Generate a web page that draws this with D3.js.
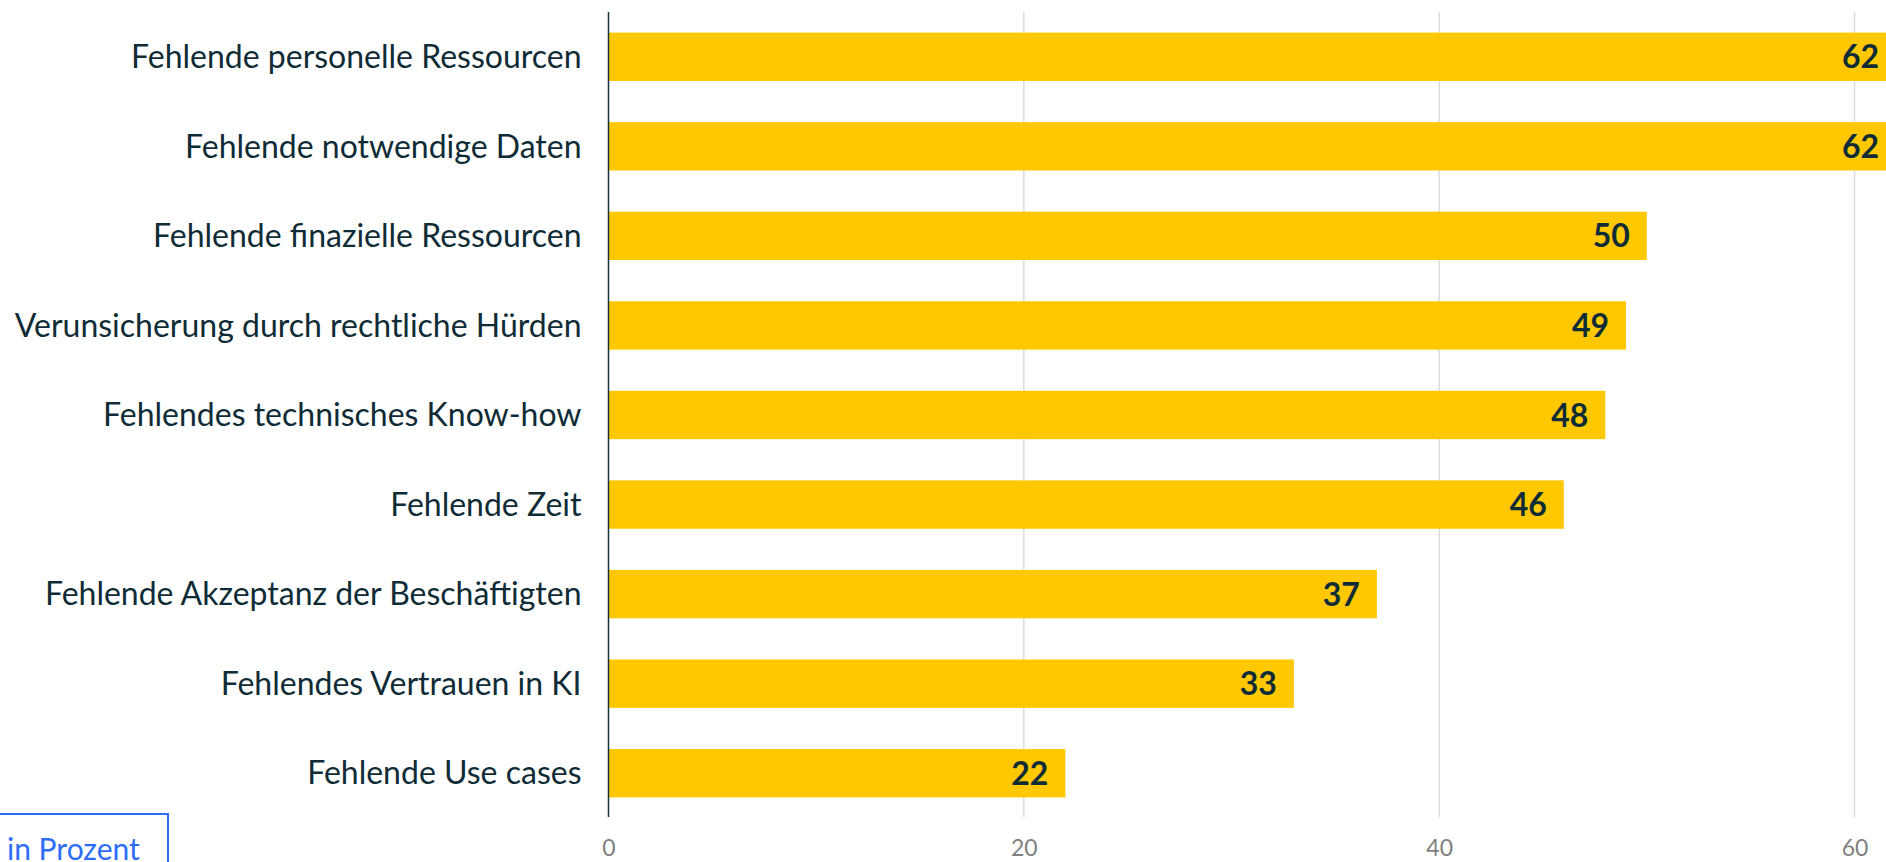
<!DOCTYPE html>
<html>
<head>
<meta charset="utf-8">
<script src="https://cdn.jsdelivr.net/npm/d3@7"></script>
<style>
  html, body { margin: 0; padding: 0; background: #fff; overflow: hidden; }
  svg { display: block; }
</style>
</head>
<body>
<svg id="chart" width="1886" height="862"></svg>
<script>
const categories = [
  "Fehlende personelle Ressourcen",
  "Fehlende notwendige Daten",
  "Fehlende finazielle Ressourcen",
  "Verunsicherung durch rechtliche Hürden",
  "Fehlendes technisches Know-how",
  "Fehlende Zeit",
  "Fehlende Akzeptanz der Beschäftigten",
  "Fehlendes Vertrauen in KI",
  "Fehlende Use cases"
];
const values = [62, 62, 50, 49, 48, 46, 37, 33, 22];
const xTicks = [0, 20, 40, 60];
const unitLabel = "in Prozent";

const W = 1886, H = 862;
const FONT = "Lato, 'Noto Sans', sans-serif";
const svg = d3.select("#chart");

const x = d3.scaleLinear().domain([0, 60]).range([608.5, 1854.5]);
const y = d3.scaleBand().domain(categories).range([12, 818]).paddingInner(0.46).paddingOuter(0.23);

// gridlines
svg.append("g").selectAll("line").data(xTicks.filter(t => t > 0)).join("line")
  .attr("x1", d => x(d)).attr("x2", d => x(d))
  .attr("y1", 12).attr("y2", 817)
  .attr("stroke", "#dcdcdc").attr("stroke-width", 1.5);

// bars
svg.append("g").selectAll("rect").data(values).join("rect")
  .attr("x", x(0))
  .attr("y", (d, i) => y(categories[i]))
  .attr("width", d => x(d) - x(0))
  .attr("height", y.bandwidth())
  .attr("fill", "#ffc800");

// y axis line
svg.append("line")
  .attr("x1", x(0)).attr("x2", x(0))
  .attr("y1", 12).attr("y2", 817)
  .attr("stroke", "#15323d").attr("stroke-width", 1.5);

// category labels
svg.append("g").selectAll("text").data(categories).join("text")
  .attr("x", x(0) - 27)
  .attr("y", d => y(d) + y.bandwidth() / 2)
  .attr("dy", "0.35em")
  .attr("text-anchor", "end")
  .attr("font-family", FONT)
  .attr("font-size", 32)
  .attr("fill", "#0f2c36")
  .text(d => d);

// value labels
svg.append("g").selectAll("text").data(values).join("text")
  .attr("x", d => x(d) - 17)
  .attr("y", (d, i) => y(categories[i]) + y.bandwidth() / 2)
  .attr("dy", "0.36em")
  .attr("text-anchor", "end")
  .attr("font-family", FONT)
  .attr("font-weight", "bold")
  .attr("font-size", 32)
  .attr("fill", "#0f2c36")
  .text(d => d);

// x axis tick labels
const xAxis = d3.axisBottom(x).tickValues(xTicks).tickSize(0).tickPadding(0);
const gx = svg.append("g").attr("transform", "translate(0,840)").call(xAxis);
gx.select(".domain").remove();
gx.selectAll("text")
  .attr("font-family", FONT)
  .attr("font-size", 23)
  .attr("fill", "#7f7f7f");

// unit box
svg.append("rect")
  .attr("x", -2).attr("y", 814)
  .attr("width", 170).attr("height", 70)
  .attr("fill", "none")
  .attr("stroke", "#2d6cf4").attr("stroke-width", 2);
svg.append("text")
  .attr("x", 7).attr("y", 860)
  .attr("font-family", FONT)
  .attr("font-size", 30)
  .attr("fill", "#2d6cf4")
  .text(unitLabel);
</script>
</body>
</html>
